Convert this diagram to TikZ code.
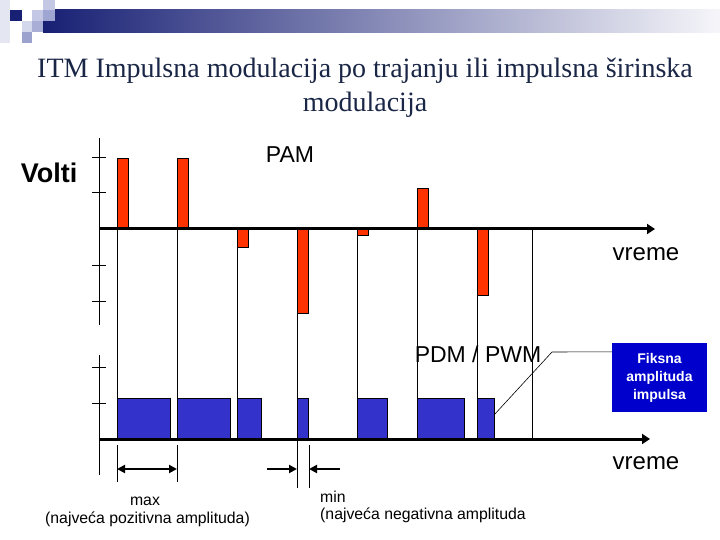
\documentclass[tikz,border=0pt]{standalone}
\usepackage{fontspec}
\setmainfont{Liberation Serif}
\setsansfont{Liberation Sans}
\usepackage{tikz}
\usetikzlibrary{arrows.meta}
\definecolor{pamred}{RGB}{255,51,0}
\definecolor{pwmblue}{RGB}{51,51,204}
\definecolor{boxblue}{RGB}{0,0,204}
\definecolor{titlenavy}{RGB}{26,38,70}
\definecolor{hdrnavy}{RGB}{24,32,116}
\definecolor{hdrmid}{RGB}{170,172,198}
\definecolor{hdrend}{RGB}{246,246,250}

\begin{document}
\begin{tikzpicture}[
  x=1pt, y=-1pt,
  axis/.style={line width=3pt,-{Triangle[length=8pt,width=10pt]}},
  gridline/.style={line width=1pt},
  pambar/.style={fill=pamred,draw=black,line width=0.7pt},
  pwmbar/.style={fill=pwmblue,draw=black,line width=0.7pt},
  dimarrow/.style={line width=2.2pt,-{Triangle[length=8pt,width=8pt]}},
  lbl/.style={font=\sffamily\fontsize{23}{26}\selectfont,anchor=base,inner sep=0pt},
  note/.style={font=\sffamily\fontsize{15.8}{18}\selectfont,anchor=base,inner sep=0pt},
  ttl/.style={font=\fontsize{28}{34}\selectfont,text=titlenavy,anchor=base,inner sep=0pt}
]
  \useasboundingbox (0,0) rectangle (720,540);

  % header bar and squares
  \shade[left color=hdrnavy,middle color=hdrmid,right color=hdrend] (43,10) rectangle (720,33);
  \fill[fill={rgb,255:red,228;green,230;blue,242}] (0,0) rectangle (10,43);
  \fill[hdrnavy] (10,10) rectangle (22,21);
  \fill[fill={rgb,255:red,196;green,200;blue,228}] (32,10) rectangle (43,21);
  \fill[fill={rgb,255:red,196;green,200;blue,228}] (43,0) rectangle (55,10);
  \fill[fill={rgb,255:red,160;green,166;blue,210}] (43,10) rectangle (55,21);
  \fill[fill={rgb,255:red,212;green,216;blue,236}] (22,21) rectangle (32,32);
  \fill[fill={rgb,255:red,168;green,174;blue,214}] (32,21) rectangle (43,32);
  \fill[fill={rgb,255:red,156;green,162;blue,206}] (22,32) rectangle (32,43);

  % title
  \node[ttl] (title1) at (365,78) {ITM Impulsna modulacija po trajanju ili impulsna širinska};
  \node[ttl] (title2) at (365,112) {modulacija};

  % grid lines
  \draw[gridline] (117,229) -- (117,439);
  \draw[gridline] (177,229) -- (177,439);
  \draw[gridline] (237,229) -- (237,439);
  \draw[gridline] (297,229) -- (297,488);
  \draw[gridline] (357,229) -- (357,439);
  \draw[gridline] (417,229) -- (417,439);
  \draw[gridline] (477,229) -- (477,439);
  \draw[gridline] (532,229) -- (532,439);
  \draw[gridline] (117,445) -- (117,482);
  \draw[gridline] (177,445) -- (177,482);
  \draw[gridline] (309,445) -- (309,488);

  % PAM
  \draw[gridline] (99,138) -- (99,325);
  \draw[gridline] (92,158) -- (106,158);
  \draw[gridline] (92,193) -- (106,193);
  \draw[gridline] (92,265) -- (106,265);
  \draw[gridline] (92,301) -- (106,301);
  \draw[pambar] (117,158) rectangle (128,229);
  \draw[pambar] (177,158) rectangle (188,229);
  \draw[pambar] (237,229) rectangle (248,247);
  \draw[pambar] (297,229) rectangle (308,313);
  \draw[pambar] (357,229) rectangle (368,235);
  \draw[pambar] (417,188) rectangle (428,229);
  \draw[pambar] (477,229) rectangle (488,295);
  \draw[axis] (99,229) -- (655,229);

  % PDM / PWM
  \draw[gridline] (99,355) -- (99,475);
  \draw[gridline] (92,367) -- (106,367);
  \draw[gridline] (92,403) -- (106,403);
  \draw[pwmbar] (117,398) rectangle (170,439);
  \draw[pwmbar] (177,398) rectangle (230,439);
  \draw[pwmbar] (237,398) rectangle (261,439);
  \draw[pwmbar] (297,398) rectangle (308,439);
  \draw[pwmbar] (357,398) rectangle (387,439);
  \draw[pwmbar] (417,398) rectangle (464,439);
  \draw[pwmbar] (477,398) rectangle (494,439);
  \draw[axis] (99,439) -- (650,439);

  % labels
  \node[font=\sffamily\bfseries\fontsize{27}{30}\selectfont,anchor=base,inner sep=0pt] (volti) at (49,183) {Volti};
  \node[lbl] (pam) at (290,163) {PAM};
  \node[lbl,font=\sffamily\fontsize{24}{28}\selectfont] (vreme1) at (646,260) {vreme};
  \node[lbl] (pwm) at (478,362) {PDM / PWM};
  \node[lbl,font=\sffamily\fontsize{24}{28}\selectfont] (vreme2) at (646,469) {vreme};

  % width arrows
  \coordinate (maxL) at (117,469);
  \coordinate (maxR) at (177,469);
  \coordinate (minL) at (267,469);
  \coordinate (minLe) at (297,469);
  \coordinate (minR) at (340,469);
  \coordinate (minRe) at (309,469);
  \draw[dimarrow,{Triangle[length=8pt,width=8pt]}-{Triangle[length=8pt,width=8pt]}] (maxL) -- (maxR);
  \draw[dimarrow] (minL) -- (minLe);
  \draw[dimarrow] (minR) -- (minRe);
  \node[note] (maxlbl) at (145,505) {max};
  \node[note] (maxnote) at (147.5,523) {(najveća pozitivna amplituda)};
  \node[note,anchor=base west] (minlbl) at (320,502) {min};
  \node[note,anchor=base west] (minnote) at (320,519) {(najveća negativna amplituda};

  % callout
  \node[fill=boxblue,text=white,font=\sffamily\bfseries\fontsize{14}{18}\selectfont,align=center,
        minimum width=95pt,minimum height=69pt,inner sep=0pt] (fiksna) at (659.5,377.5) {Fiksna\\amplituda\\impulsa};
  \coordinate (bend) at (552,352);
  \coordinate (tip) at (494,415);
  \draw[line width=0.6pt] ([yshift=-9pt]fiksna.north west) -- (bend) -- (tip);
\end{tikzpicture}
\end{document}
